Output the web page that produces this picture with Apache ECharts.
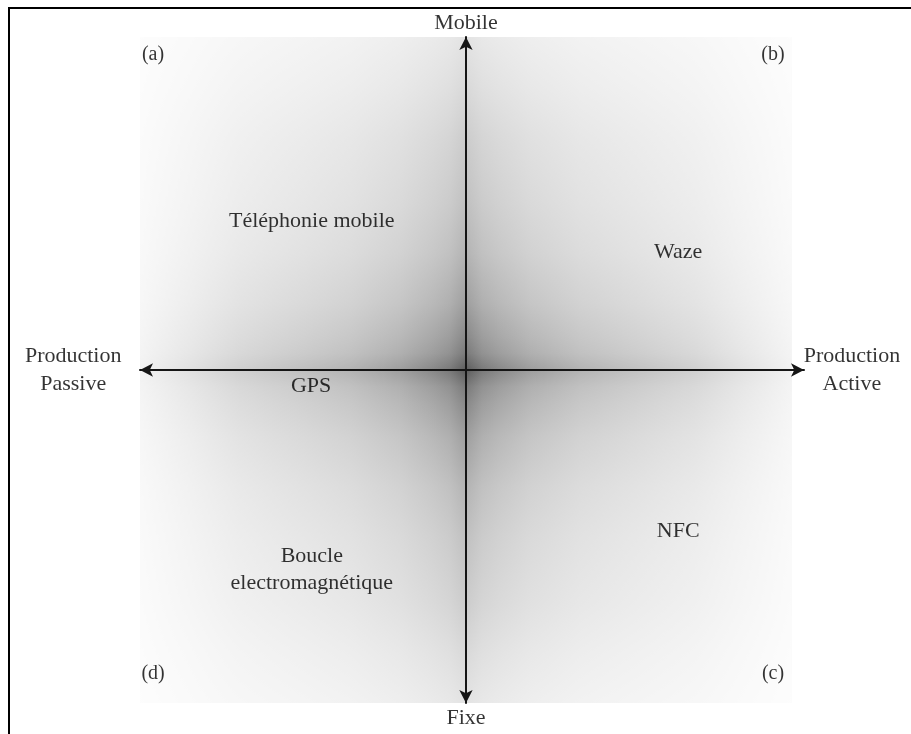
<!DOCTYPE html>
<html>
<head>
<meta charset="utf-8">
<script src="https://cdn.jsdelivr.net/npm/echarts@6/dist/echarts.min.js"></script>
<style>
html,body{margin:0;padding:0;background:#fff;}
#main{width:911px;height:734px;}
</style>
</head>
<body>
<div id="main"></div>
<script>
// ---- data (axis units: x,y in [-1,1]) ----
const quadrantLabels = ['Téléphonie mobile', 'Waze', 'GPS', 'Boucle\nelectromagnétique', 'NFC'];
const quadrantX = [-0.473, 0.651, -0.475, -0.473, 0.651];
const quadrantY = [0.447, 0.354, -0.048, -0.599, -0.483];

const cornerTags = ['(a)', '(b)', '(c)', '(d)'];
const cornerX = [-0.960, 0.942, 0.942, -0.960];
const cornerY = [0.946, 0.946, -0.913, -0.913];

const endLabels = ['Mobile', 'Fixe', 'Production\nPassive', 'Production\nActive'];
const endX = [0, 0, -1.205, 1.184];
const endY = [1.04, -1.045, 0.0, 0.0];

const xRange = [-1, 1.037];
const yRange = [-1, 1];

const FONT = '"Liberation Serif", "Times New Roman", serif';
const TXT = '#000000';

function pts(names, xs, ys) {
  return names.map((n, i) => ({ name: n, value: [xs[i], ys[i]] }));
}

const chart = echarts.init(document.getElementById('main'), null, { renderer: 'canvas' });

const axisLine = {
  show: true,
  onZero: true,
  symbol: ['arrow', 'arrow'],
  symbolSize: [10, 13],
  lineStyle: { color: '#151515', width: 2 }
};

function labelSeries(name, data, size, lh) {
  return {
    name: name,
    type: 'scatter',
    clip: false,
    symbolSize: 0,
    silent: true,
    data: data,
    z: 5,
    label: {
      show: true,
      position: 'inside',
      formatter: '{b}',
      color: TXT,
      fontFamily: FONT,
      fontSize: size,
      lineHeight: lh,
      align: 'center',
      verticalAlign: 'middle'
    }
  };
}

chart.setOption({
  backgroundColor: '#ffffff',
  animation: false,
  grid: { left: 140, right: 107, top: 37, bottom: 31, containLabel: false },
  xAxis: {
    type: 'value', min: xRange[0], max: xRange[1],
    axisLine: axisLine, axisTick: { show: false }, axisLabel: { show: false }, splitLine: { show: false }
  },
  yAxis: {
    type: 'value', min: yRange[0], max: yRange[1],
    axisLine: axisLine, axisTick: { show: false }, axisLabel: { show: false }, splitLine: { show: false }
  },
  series: [
    labelSeries('quadrants', pts(quadrantLabels, quadrantX, quadrantY), 22, 27),
    labelSeries('corners', pts(cornerTags, cornerX, cornerY), 20, 24),
    labelSeries('ends', pts(endLabels, endX, endY), 22, 28)
  ]
});

// background shading square spanning -1..1 on both axes, placed through the axes
const p1 = chart.convertToPixel({ gridIndex: 0 }, [-1, 1]);
const p2 = chart.convertToPixel({ gridIndex: 0 }, [1, -1]);
const sq = { x: p1[0], y: p1[1], width: p2[0] - p1[0], height: p2[1] - p1[1] };

function stops(edge, e85, e70) {
  const c = [
    [0, edge], [0.075, e85], [0.15, e70], [0.25, '#b0b0b0'], [0.325, '#a0a0a0'],
    [0.4, '#868686'], [0.45, '#6a6a6a'], [0.475, '#585858'], [0.5, '#333333'],
    [0.525, '#585858'], [0.55, '#6a6a6a'], [0.6, '#868686'], [0.675, '#a0a0a0'],
    [0.75, '#b0b0b0'], [0.85, e70], [0.925, e85], [1, edge]
  ];
  return c.map(s => ({ offset: s[0], color: s[1] }));
}

chart.setOption({
  graphic: [
    {
      type: 'rect', z: -10, silent: true,
      shape: sq,
      style: {
        fill: { type: 'linear', x: 0, y: 0, x2: 1, y2: 0, colorStops: stops('#eeeeee', '#dadada', '#c4c4c4') }
      }
    },
    {
      type: 'rect', z: -9, silent: true,
      shape: sq,
      style: {
        blend: 'screen',
        fill: { type: 'linear', x: 0, y: 0, x2: 0, y2: 1, colorStops: stops('#dcdcdc', '#cfcfcf', '#bfbfbf') }
      }
    },
    // frame lines (top and left)
    {
      type: 'line', silent: true, z: 10,
      shape: { x1: 8, y1: 8, x2: 911, y2: 8 },
      style: { stroke: '#000', lineWidth: 2 }
    },
    {
      type: 'line', silent: true, z: 10,
      shape: { x1: 9, y1: 7, x2: 9, y2: 734 },
      style: { stroke: '#000', lineWidth: 2 }
    }
  ]
});
</script>
</body>
</html>
